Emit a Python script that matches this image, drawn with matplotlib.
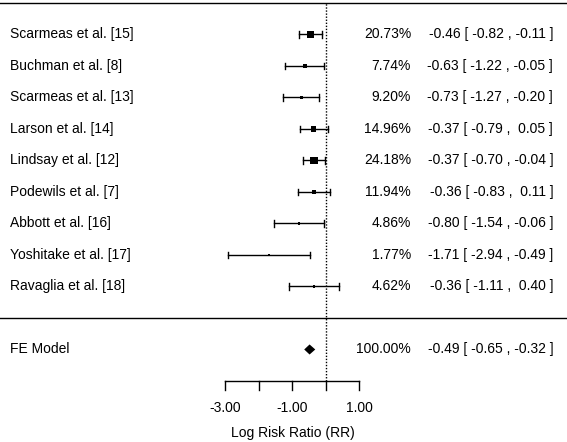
import matplotlib
matplotlib.use("Agg")
import matplotlib.pyplot as plt
from matplotlib.patches import Rectangle
import numpy as np

# study data
studies = ["Scarmeas et al. [15]", "Buchman et al. [8]", "Scarmeas et al. [13]",
           "Larson et al. [14]", "Lindsay et al. [12]", "Podewils et al. [7]",
           "Abbott et al. [16]", "Yoshitake et al. [17]", "Ravaglia et al. [18]"]
weights = [20.73, 7.74, 9.20, 14.96, 24.18, 11.94, 4.86, 1.77, 4.62]
est = [-0.46, -0.63, -0.73, -0.37, -0.37, -0.36, -0.80, -1.71, -0.36]
ci_lo = [-0.82, -1.22, -1.27, -0.79, -0.70, -0.83, -1.54, -2.94, -1.11]
ci_hi = [-0.11, -0.05, -0.20, 0.05, -0.04, 0.11, -0.06, -0.49, 0.40]

fe_label = "FE Model"
fe_weight = 100.00
fe_est, fe_lo, fe_hi = -0.49, -0.65, -0.32

xticks = [-3, -2, -1, 0, 1]
xtick_labels = ["-3.00", "", "-1.00", "", "1.00"]
xlabel = "Log Risk Ratio (RR)"

plt.rcParams['font.family'] = ['Liberation Sans', 'DejaVu Sans']
fs = 10

fig = plt.figure(figsize=(5.67, 4.42), dpi=100)
ax = fig.add_axes([0, 0, 1, 1])
ax.set_xlim(-9.731, 7.194)
ax.set_ylim(-3.937, 10.095)
ax.axis('off')

# pixels per data unit, used to keep the squares square
px_x = 567 / (7.194 + 9.731)
px_y = 442 / (10.095 + 3.937)

k = len(studies)
rows = np.arange(k, 0, -1)
x_label = -9.43
x_pct = 2.54
x_ci = 6.78
cap = 0.11

# top and separator lines
ax.plot([-10, 8], [k + 1, k + 1], color='black', lw=1)
ax.plot([-10, 8], [0, 0], color='black', lw=1)
# reference line at zero
ax.plot([0, 0], [-2, k + 1], color='black', lw=1, ls=(0, (1, 1.2)))

for i, y in enumerate(rows):
    ax.plot([ci_lo[i], ci_hi[i]], [y, y], color='black', lw=1)
    for xe in (ci_lo[i], ci_hi[i]):
        ax.plot([xe, xe], [y - cap, y + cap], color='black', lw=1)
    # square side (in pixels) grows with the study weight
    side = 1.2 + 0.28 * weights[i]
    w, h = side / px_x, side / px_y
    ax.add_patch(Rectangle((est[i] - w / 2, y - h / 2), w, h,
                           facecolor='black', edgecolor='none', zorder=3))
    ax.text(x_label, y, studies[i], fontsize=fs, ha='left', va='center')
    ax.text(x_pct, y, f"{weights[i]:.2f}%", fontsize=fs, ha='right', va='center')
    ax.text(x_ci, y, f"{est[i]:.2f} [ {ci_lo[i]:.2f} , {ci_hi[i]:5.2f} ]",
            fontsize=fs, ha='right', va='center')

# summary diamond
yf = -1
ax.fill([fe_lo, fe_est, fe_hi, fe_est], [yf, yf + 0.16, yf, yf - 0.16],
        color='black', lw=0)
ax.text(x_label, yf, fe_label, fontsize=fs, ha='left', va='center')
ax.text(x_pct, yf, f"{fe_weight:.2f}%", fontsize=fs, ha='right', va='center')
ax.text(x_ci, yf, f"{fe_est:.2f} [ {fe_lo:.2f} , {fe_hi:5.2f} ]",
        fontsize=fs, ha='right', va='center')

# x axis
ax.plot([xticks[0], xticks[-1]], [-2, -2], color='black', lw=1)
for t, lab in zip(xticks, xtick_labels):
    ax.plot([t, t], [-2, -2.29], color='black', lw=1)
    if lab:
        ax.text(t, -2.86, lab, fontsize=fs, ha='center', va='center')
ax.text(np.mean([xticks[0], xticks[-1]]), -3.65, xlabel, fontsize=fs,
        ha='center', va='center')

fig.savefig("out.png", dpi=100)
